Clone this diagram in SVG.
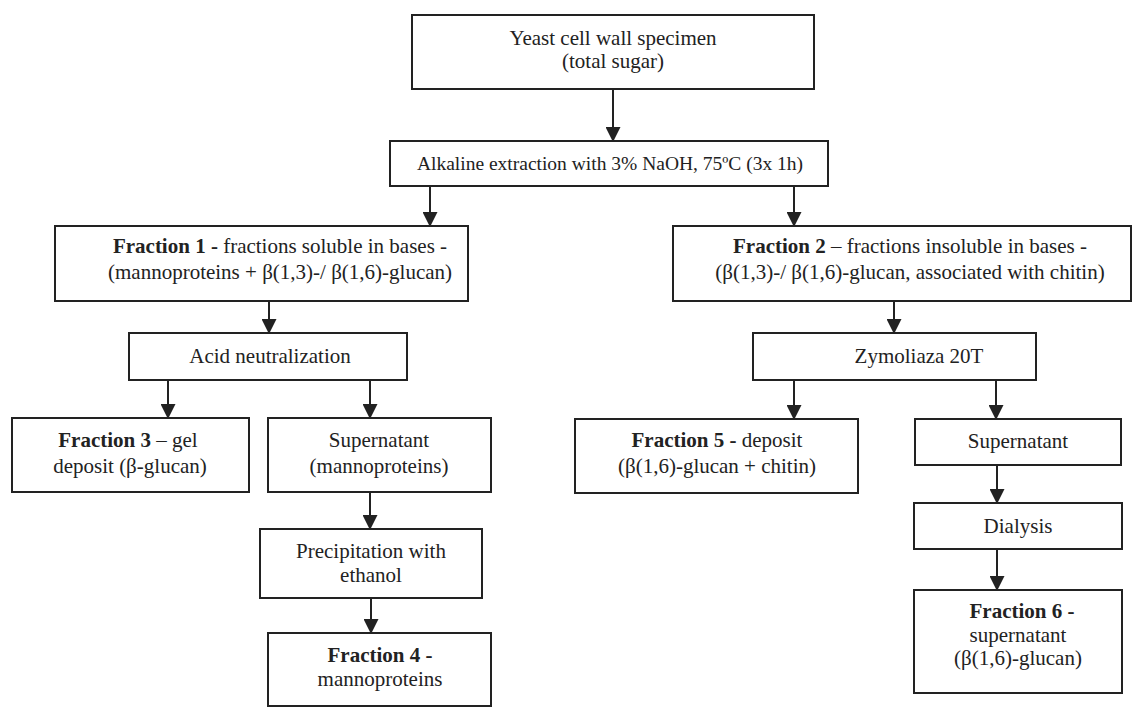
<svg xmlns="http://www.w3.org/2000/svg" width="1134" height="708" viewBox="0 0 1134 708">
<style>
.b{fill:#fff;stroke:#222;stroke-width:2}
text{font-family:'Liberation Serif','Times New Roman',serif;font-size:21px;fill:#222;text-anchor:middle}
.bd{font-weight:bold}
.c{stroke:#222;stroke-width:2;fill:none;marker-end:url(#ah)}
</style>
<defs>
<marker id="ah" markerUnits="userSpaceOnUse" markerWidth="15" markerHeight="15" refX="14" refY="7.5" orient="auto">
<path d="M0,0 L15,7.5 L0,15 z" fill="#222"/>
</marker>
</defs>
<rect width="1134" height="708" fill="#fff"/>
<g id="connectors">
<path class="c" d="M613,89 V141"/>
<path class="c" d="M430,186 V226"/>
<path class="c" d="M794,186 V226"/>
<path class="c" d="M269,301 V333"/>
<path class="c" d="M894,301 V333"/>
<path class="c" d="M168,380 V418"/>
<path class="c" d="M370,380 V418"/>
<path class="c" d="M794,380 V419"/>
<path class="c" d="M996,380 V419"/>
<path class="c" d="M370,492 V529"/>
<path class="c" d="M371,598 V633"/>
<path class="c" d="M997,465 V503"/>
<path class="c" d="M997,549 V590"/>
</g>
<g id="n-yeast">
<rect class="b" x="412" y="15" width="402" height="74"/>
<text x="613" y="45">Yeast cell wall specimen</text>
<text x="613" y="68">(total sugar)</text>
</g>
<g id="n-alkaline">
<rect class="b" x="390" y="141" width="438" height="45"/>
<text x="610" y="170" style="font-size:19.5px">Alkaline extraction with 3% NaOH, 75ºC (3x 1h)</text>
</g>
<g id="n-f1">
<rect class="b" x="55" y="226" width="413" height="75"/>
<text x="280" y="253"><tspan class="bd">Fraction 1 -</tspan> fractions soluble in bases -</text>
<text x="280" y="279">(mannoproteins + β(1,3)-/ β(1,6)-glucan)</text>
</g>
<g id="n-f2">
<rect class="b" x="673" y="226" width="458" height="75"/>
<text x="910" y="253"><tspan class="bd">Fraction 2</tspan> – fractions insoluble in bases -</text>
<text x="910" y="279">(β(1,3)-/ β(1,6)-glucan, associated with chitin)</text>
</g>
<g id="n-acid">
<rect class="b" x="129" y="333" width="278" height="47"/>
<text x="270" y="363">Acid neutralization</text>
</g>
<g id="n-zym">
<rect class="b" x="753" y="333" width="283" height="47"/>
<text x="919" y="363">Zymoliaza 20T</text>
</g>
<g id="n-f3">
<rect class="b" x="12" y="418" width="237" height="74"/>
<text x="128" y="447"><tspan class="bd">Fraction 3</tspan> – gel</text>
<text x="130" y="473">deposit (β-glucan)</text>
</g>
<g id="n-supl">
<rect class="b" x="268" y="418" width="223" height="74"/>
<text x="379" y="447">Supernatant</text>
<text x="379" y="473">(mannoproteins)</text>
</g>
<g id="n-f5">
<rect class="b" x="575" y="419" width="283" height="74"/>
<text x="717" y="447"><tspan class="bd">Fraction 5 -</tspan> deposit</text>
<text x="717" y="473">(β(1,6)-glucan + chitin)</text>
</g>
<g id="n-supr">
<rect class="b" x="915" y="419" width="206" height="46"/>
<text x="1018" y="448">Supernatant</text>
</g>
<g id="n-precip">
<rect class="b" x="260" y="529" width="222" height="69"/>
<text x="371" y="558">Precipitation with</text>
<text x="371" y="582">ethanol</text>
</g>
<g id="n-f4">
<rect class="b" x="268" y="633" width="223" height="73"/>
<text x="380" y="662"><tspan class="bd">Fraction 4 -</tspan></text>
<text x="380" y="686">mannoproteins</text>
</g>
<g id="n-dialysis">
<rect class="b" x="914" y="503" width="208" height="46"/>
<text x="1018" y="533">Dialysis</text>
</g>
<g id="n-f6">
<rect class="b" x="914" y="590" width="208" height="103"/>
<text x="1022" y="618"><tspan class="bd">Fraction 6 -</tspan></text>
<text x="1018" y="642">supernatant</text>
<text x="1018" y="665">(β(1,6)-glucan)</text>
</g>
</svg>
